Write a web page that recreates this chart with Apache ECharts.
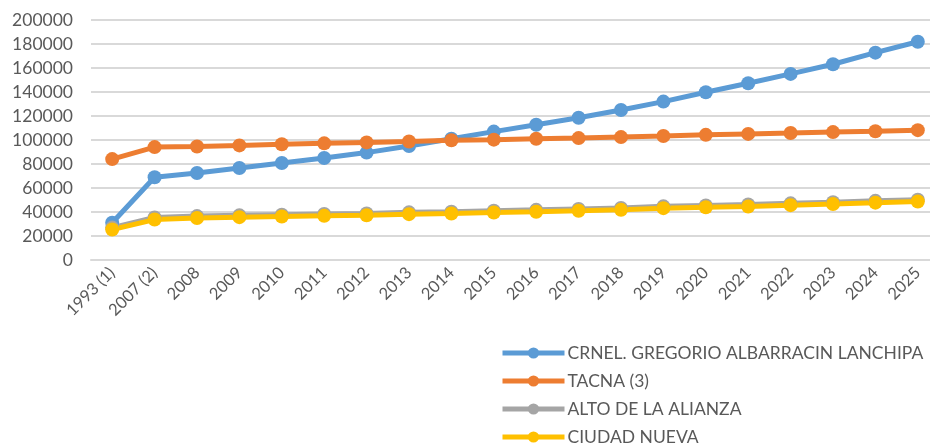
<!DOCTYPE html>
<html>
<head>
<meta charset="utf-8">
<script src="https://cdn.jsdelivr.net/npm/echarts@6/dist/echarts.min.js"></script>
<style>
  html, body { margin: 0; padding: 0; background: #fff; }
  #main { width: 930px; height: 447px; }
</style>
</head>
<body>
<div id="main"></div>
<script>
var chart = echarts.init(document.getElementById("main"));

var years = ['1993 (1)', '2007 (2)', '2008', '2009', '2010', '2011', '2012', '2013', '2014', '2015',
    '2016', '2017', '2018', '2019', '2020', '2021', '2022', '2023', '2024', '2025'];

var crnelData = [31000, 69000, 72500, 76700, 80800, 85000, 89500, 95000, 101000, 107000,
    112700, 118500, 125000, 132000, 139800, 147300, 155100, 163100, 172800, 181900];
var tacnaData = [84100, 94100, 94600, 95500, 96500, 97200, 98000, 98800, 99800, 100300,
    101000, 101600, 102400, 103300, 104300, 105100, 105800, 106600, 107300, 108200];
var altoData = [27000, 35400, 36600, 37200, 37800, 38300, 38800, 39700, 40300, 41100,
    41800, 42600, 43400, 44700, 45500, 46200, 47200, 48200, 49300, 50200];
var ciudadData = [25400, 33700, 35000, 35700, 36300, 36800, 37300, 38200, 38800, 39600,
    40200, 41000, 41800, 43200, 43900, 44600, 45700, 46700, 47800, 48700];

var seriesNames = ['CRNEL. GREGORIO ALBARRACIN LANCHIPA', 'TACNA (3)', 'ALTO DE LA ALIANZA', 'CIUDAD NUEVA'];
var seriesColors = ['#5B9BD5', '#ED7D31', '#A5A5A5', '#FFC000'];
var seriesData = [crnelData, tacnaData, altoData, ciudadData];

var textColor = '#595959';
var fontName = 'Lato';

function makeSeries(i) {
    return {
        name: seriesNames[i],
        type: 'line',
        data: seriesData[i],
        symbol: 'circle',
        symbolSize: 14,
        lineStyle: { color: seriesColors[i], width: 5 },
        itemStyle: { color: seriesColors[i] }
    };
}

var option = {
    animation: false,
    backgroundColor: '#fff',
    textStyle: { fontFamily: fontName },
    grid: {
        left: 91,
        width: 848,
        top: 20,
        bottom: 187,
        outerBoundsMode: 'none'
    },
    xAxis: {
        type: 'category',
        data: years,
        boundaryGap: true,
        axisLine: { show: true, lineStyle: { color: '#D9D9D9', width: 2 } },
        axisTick: { show: false },
        axisLabel: {
            rotate: 45,
            interval: 0,
            margin: 10,
            color: textColor,
            fontSize: 16.5,
            fontFamily: fontName
        }
    },
    yAxis: {
        type: 'value',
        min: 0,
        max: 200000,
        interval: 20000,
        axisLine: { show: false },
        axisTick: { show: false },
        axisLabel: {
            color: textColor,
            fontSize: 17.5,
            fontFamily: fontName,
            margin: 18,
            formatter: function (v) { return String(v); }
        },
        splitLine: { lineStyle: { color: '#D9D9D9', width: 2 } }
    },
    legend: {
        orient: 'vertical',
        left: 500,
        top: 344,
        height: 130,
        padding: 0,
        itemWidth: 62,
        itemHeight: 14,
        itemGap: 10,
        lineStyle: { width: 5 },
        textStyle: { color: textColor, fontSize: 17.5, fontFamily: fontName, padding: [0, 0, 0, -2] },
        data: seriesNames
    },
    series: [makeSeries(0), makeSeries(1), makeSeries(2), makeSeries(3)]
};

chart.setOption(option);

window.onresize = function () {
    chart.resize();
};
</script>
</body>
</html>
